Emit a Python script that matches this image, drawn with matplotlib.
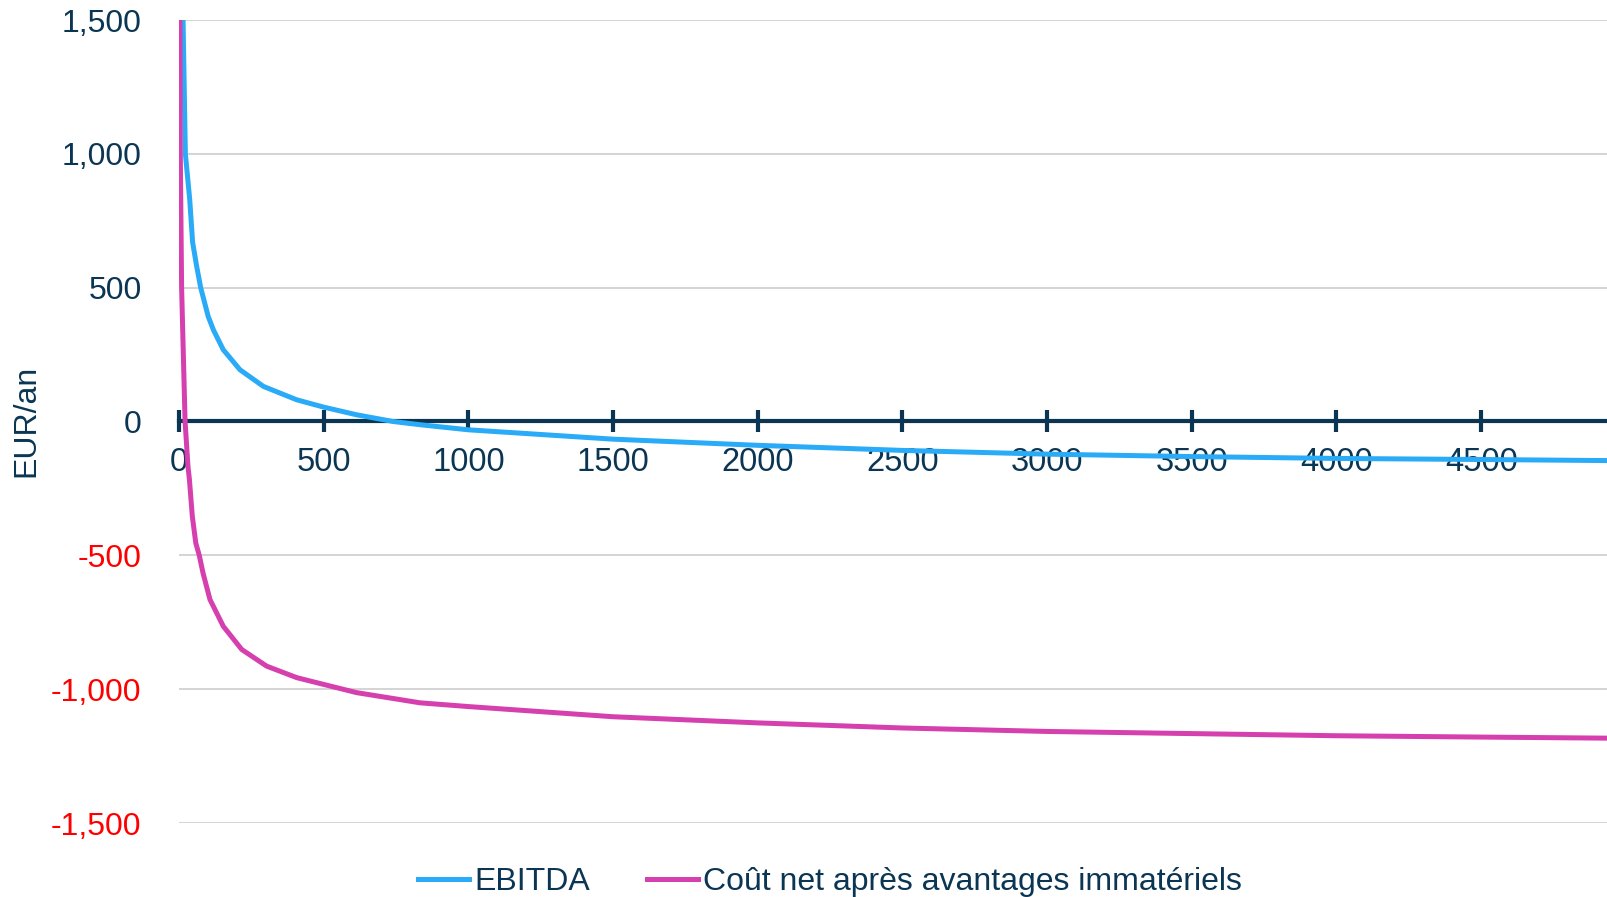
import matplotlib
matplotlib.use('Agg')
import matplotlib.pyplot as plt

plt.rcParams['font.family'] = ['Liberation Sans', 'DejaVu Sans']

# Series read at selected x positions (EUR/an)
ebitda_x = [14, 22, 37, 47, 61, 75, 101, 119, 153, 211, 292, 407, 499, 614, 740,
            833, 1000, 1500, 2000, 2500, 3000, 3500, 4000, 4500, 4935]
ebitda_y = [1500, 1000, 830, 670, 580, 500, 392, 342, 268, 193, 131, 81, 54, 25, 0,
            -12, -31, -66, -89, -108, -122, -131, -138, -142, -146]

cout_x = [3, 4.5, 9, 21, 31, 36, 46, 58, 70, 83, 107, 153, 217, 303, 407, 499, 614,
          833, 1000, 1500, 2000, 2500, 3000, 3500, 4000, 4500, 4935]
cout_y = [1500, 1000, 500, 0, -168, -217, -354, -454, -500, -566, -665, -765, -852,
          -914, -957, -982, -1013, -1051, -1065, -1103, -1126, -1145, -1158, -1166,
          -1174, -1179, -1183]

x_ticks = [0, 500, 1000, 1500, 2000, 2500, 3000, 3500, 4000, 4500]
y_ticks = [-1500, -1000, -500, 0, 500, 1000, 1500]

NAVY = '#0a3654'
BLUE = '#29abf7'
MAGENTA = '#d63fae'
GRID = '#c9c9c9'

W, H = 1607, 897
fig = plt.figure(figsize=(W / 100, H / 100), dpi=100)
ax = fig.add_axes([179 / W, 1 - 823 / H, (W - 179) / W, (823 - 20) / H])

ax.plot(ebitda_x, ebitda_y, color=BLUE, lw=3.6, zorder=3, label='EBITDA',
        solid_joinstyle='round')
ax.plot(cout_x, cout_y, color=MAGENTA, lw=3.6, zorder=3,
        label='Coût net après avantages immatériels', solid_joinstyle='round')

ax.set_xlim(0, 4935)
ax.set_ylim(-1500, 1500)

# horizontal grid only
ax.set_yticks(y_ticks)
ax.set_yticklabels([f'{v:,}' for v in y_ticks])
ax.yaxis.grid(True, color=GRID, lw=1.1)
ax.set_axisbelow(True)
ax.tick_params(axis='y', length=0, pad=27, labelsize=23, labelcolor=NAVY)
for lbl, v in zip(ax.get_yticklabels(), y_ticks):
    if v < 0:
        lbl.set_color('#ff0000')

# x axis sits on the zero line
for s in ['left', 'top', 'right']:
    ax.spines[s].set_visible(False)
ax.spines['bottom'].set_position(('data', 0))
ax.spines['bottom'].set_color(NAVY)
ax.spines['bottom'].set_linewidth(3)
ax.spines['bottom'].set_zorder(2.5)
ax.set_xticks(x_ticks)
ax.set_xticklabels([str(v) for v in x_ticks])
ax.tick_params(axis='x', direction='inout', length=16, width=3, color=NAVY,
               pad=10, labelsize=23.5, labelcolor=NAVY)

fig.text(26 / W, 1 - 421 / H, 'EUR/an', rotation=90, ha='center', va='center',
         fontsize=23, color=NAVY)

fig.legend(loc='center', bbox_to_anchor=(830 / W, 1 - 882 / H), ncol=2,
           frameon=False, fontsize=23, labelcolor=NAVY, handlelength=1.6,
           handletextpad=0.15, columnspacing=1.8)

fig.savefig('out.png', dpi=100, facecolor='white')
